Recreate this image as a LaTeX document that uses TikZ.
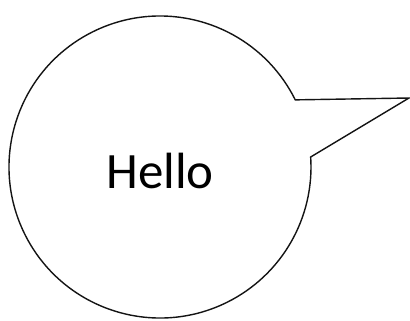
\documentclass[tikz,border=0pt]{standalone}
\usepackage{fontspec}
\setmainfont{Carlito}
\usepackage{tikz}
\usetikzlibrary{calc}
\definecolor{bubbleline}{RGB}{20, 20, 20}

\begin{document}
\begin{tikzpicture}
  \useasboundingbox (0,0) rectangle (8.2,6.4);
  \begin{scope}
    % bubble: centre, where the tail leaves, its tip
    \coordinate (centre) at (3.2,3.06);
    \coordinate (tailtop) at ($(centre)+(26.4:3.02)$);
    \coordinate (tip) at (8.18,4.44);
    \draw[bubbleline, line width=0.8pt, line join=miter]
          (tailtop) arc[start angle=26.4, end angle=363.8, radius=3.02]
          -- (tip) -- cycle;
    % text
    \node[anchor=base, inner sep=0pt, font=\fontsize{29}{35}\selectfont] (hello)
          at (3.2,2.64) {Hello};
  \end{scope}
\end{tikzpicture}
\end{document}
